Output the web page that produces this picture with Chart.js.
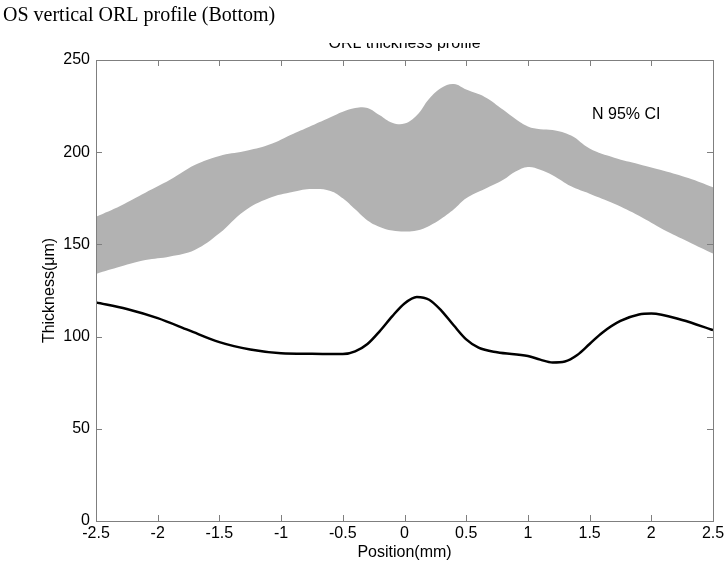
<!DOCTYPE html>
<html>
<head>
<meta charset="utf-8">
<script src="https://cdn.jsdelivr.net/npm/chart.js@4/dist/chart.umd.min.js"></script>
<style>
  html, body { margin: 0; padding: 0; background: #fff; }
  #wrap { width: 728px; height: 570px; }
</style>
</head>
<body>
<div id="wrap"><canvas id="orlChart" width="728" height="570"></canvas></div>
<script>
// ---- data ----
const bandPos   = [-2.5, -2.3, -2.1, -1.9, -1.7, -1.5, -1.3, -1.1, -0.9, -0.75, -0.6, -0.5, -0.4, -0.3, -0.2, -0.1, 0, 0.1, 0.2, 0.3, 0.4, 0.5, 0.65, 0.8, 0.9, 1.0, 1.1, 1.2, 1.35, 1.5, 1.7, 1.9, 2.1, 2.3, 2.5];
const bandUpper = [165, 171, 178, 185, 193, 198, 200.5, 204, 210, 214.5, 219, 222, 224, 224, 220, 216, 215.5, 220, 229, 235, 237, 234, 230, 223, 218, 214, 212.5, 212, 209, 202, 197, 193.5, 190, 186, 181];
const bandLower = [134, 138, 141.5, 143.5, 147, 156, 168, 175, 178.5, 180, 179, 175, 169, 163, 159.5, 157.5, 157, 157.5, 160, 164, 169, 175, 180, 185, 189.5, 192, 190.5, 187.5, 181.5, 177.5, 172, 165.5, 158, 151.5, 145];

const linePos   = [-2.5, -2.25, -2.0, -1.75, -1.5, -1.25, -1.0, -0.75, -0.5, -0.4, -0.3, -0.2, -0.1, 0, 0.1, 0.2, 0.3, 0.4, 0.5, 0.6, 0.75, 1.0, 1.1, 1.2, 1.3, 1.4, 1.5, 1.6, 1.75, 1.9, 2.0, 2.25, 2.5];
const thickness = [118.5, 115, 110, 103.5, 97, 93, 91, 90.7, 90.5, 92, 96, 103, 111, 118, 121.5, 120, 114, 106, 98.5, 94, 91.5, 89.5, 87.5, 86, 86.5, 90, 96, 102, 108.5, 112, 112.5, 109, 103.5];

const xTicks = [-2.5, -2, -1.5, -1, -0.5, 0, 0.5, 1, 1.5, 2, 2.5];
const yTicks = [0, 50, 100, 150, 200, 250];

const pageTitle = 'OS vertical ORL profile (Bottom)';
const plotTitle = 'ORL thickness profile';
const ciLabel = 'N 95% CI';

const toXY = (xs, ys) => xs.map((x, i) => ({ x: x, y: ys[i] }));

const sans = "'Liberation Sans', Arial, sans-serif";

// box, inward ticks and extra texts (matlab look)
const matlabBox = {
  id: 'matlabBox',
  afterDraw(chart) {
    const ctx = chart.ctx;
    const a = chart.chartArea;
    const xs = chart.scales.x, ys = chart.scales.y;
    ctx.save();
    ctx.strokeStyle = '#7f7f7f';
    ctx.lineWidth = 1;
    ctx.strokeRect(a.left + 0.5, a.top + 0.5, a.right - a.left, a.bottom - a.top);
    ctx.beginPath();
    xTicks.forEach(t => {
      const px = Math.round(xs.getPixelForValue(t)) + 0.5;
      ctx.moveTo(px, a.bottom); ctx.lineTo(px, a.bottom - 6);
      ctx.moveTo(px, a.top); ctx.lineTo(px, a.top + 6);
    });
    yTicks.forEach(t => {
      const py = Math.round(ys.getPixelForValue(t)) + 0.5;
      ctx.moveTo(a.left, py); ctx.lineTo(a.left + 6, py);
      ctx.moveTo(a.right, py); ctx.lineTo(a.right - 6, py);
    });
    ctx.stroke();

    // page title
    ctx.fillStyle = '#000';
    ctx.font = "20px 'Liberation Serif', 'Times New Roman', serif";
    ctx.textAlign = 'left';
    ctx.textBaseline = 'alphabetic';
    ctx.fillText(pageTitle, 3, 21);

    // CI label
    ctx.font = '16px ' + sans;
    ctx.fillText(ciLabel, xs.getPixelForValue(1.52), ys.getPixelForValue(218));

    // plot title, top half cut off as in the source
    ctx.beginPath();
    ctx.rect(0, 43, chart.width, 20);
    ctx.clip();
    ctx.textAlign = 'center';
    ctx.fillText(plotTitle, (a.left + a.right) / 2, 48);
    ctx.restore();
  }
};

const ctx = document.getElementById('orlChart').getContext('2d');
const orlChart = new Chart(ctx, {
  type: 'line',
  data: {
    datasets: [
      {
        label: 'lower',
        data: toXY(bandPos, bandLower),
        borderWidth: 0,
        borderColor: 'rgba(0,0,0,0)',
        pointRadius: 0,
        tension: 0.4,
        fill: false
      },
      {
        label: 'N 95% CI',
        data: toXY(bandPos, bandUpper),
        borderWidth: 0,
        borderColor: 'rgba(0,0,0,0)',
        backgroundColor: 'rgb(178,178,178)', // band fill
        pointRadius: 0,
        tension: 0.4,
        fill: '-1'
      },
      {
        label: 'ORL thickness',
        data: toXY(linePos, thickness),
        borderColor: '#000',
        borderWidth: 2.5,
        pointRadius: 0,
        cubicInterpolationMode: 'monotone',
        fill: false
      }
    ]
  },
  options: {
    responsive: false,
    animation: false,
    layout: { padding: { top: 60, right: 15, left: 0, bottom: 0 } },
    plugins: {
      legend: { display: false },
      tooltip: { enabled: false }
    },
    scales: {
      x: {
        type: 'linear',
        min: -2.5,
        max: 2.5,
        afterBuildTicks: s => { s.ticks = xTicks.map(v => ({ value: v })); },
        afterFit: s => { s.height = 49; },
        grid: { display: false, drawTicks: false },
        border: { display: false },
        ticks: { color: '#000', font: { family: sans, size: 16 }, padding: 3, maxRotation: 0, autoSkip: false, callback: v => String(v) },
        title: { display: true, text: 'Position(mm)', color: '#000', font: { family: sans, size: 16 }, padding: { top: 0, bottom: 8 } }
      },
      y: {
        min: 0,
        max: 250,
        afterBuildTicks: s => { s.ticks = yTicks.map(v => ({ value: v })); },
        afterFit: s => { s.width = 96; },
        grid: { display: false, drawTicks: false },
        border: { display: false },
        ticks: { color: '#000', font: { family: sans, size: 16 }, padding: 6, autoSkip: false, callback: v => String(v) },
        title: { display: true, text: 'Thickness(\u03bcm)', color: '#000', font: { family: sans, size: 16 }, padding: { top: 40, bottom: 0 } }
      }
    }
  },
  plugins: [matlabBox]
});
</script>
</body>
</html>
